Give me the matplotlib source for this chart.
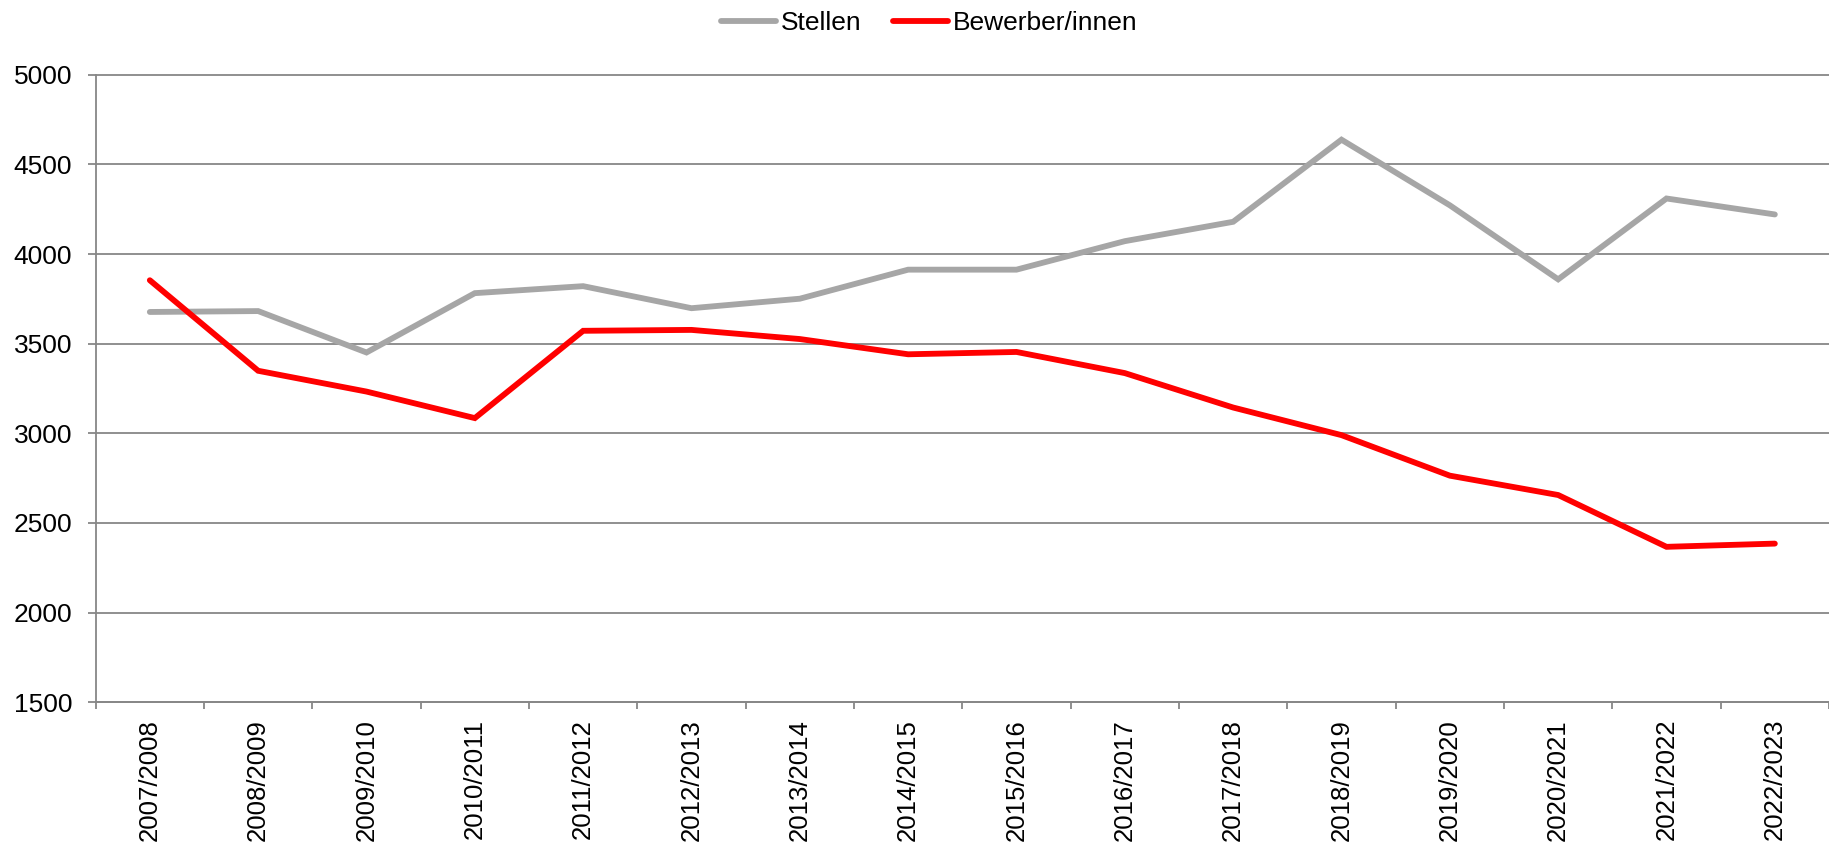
import matplotlib
matplotlib.use("Agg")
import matplotlib.pyplot as plt

plt.rcParams['font.family'] = ['Liberation Sans', 'DejaVu Sans']

# Data
jahre = ["2007/2008", "2008/2009", "2009/2010", "2010/2011", "2011/2012",
         "2012/2013", "2013/2014", "2014/2015", "2015/2016", "2016/2017",
         "2017/2018", "2018/2019", "2019/2020", "2020/2021", "2021/2022",
         "2022/2023"]
stellen = [3677, 3682, 3451, 3782, 3821, 3698, 3751, 3913, 3913, 4072,
           4180, 4638, 4272, 3859, 4310, 4221]
bewerber = [3854, 3349, 3233, 3085, 3572, 3577, 3526, 3441, 3454, 3336,
            3144, 2990, 2764, 2656, 2367, 2385]
y_ticks = [1500, 2000, 2500, 3000, 3500, 4000, 4500, 5000]

grid_col = '#878787'

fig = plt.figure(figsize=(18.29, 8.46), dpi=100)
ax = fig.add_axes([0.0523, 0.1699, 0.9477, 0.7417])

x = list(range(len(jahre)))
l1, = ax.plot(x, stellen, color='#A6A6A6', lw=4.2, solid_capstyle='round',
              solid_joinstyle='miter', label='Stellen', zorder=3)
l2, = ax.plot(x, bewerber, color='#FF0000', lw=4.2, solid_capstyle='round',
              solid_joinstyle='miter', label='Bewerber/innen', zorder=4)

ax.set_xlim(-0.5, len(jahre) - 0.5)
ax.set_ylim(1500, 5000)
ax.set_yticks(y_ticks)
ax.set_yticklabels([str(v) for v in y_ticks])

# category labels in the middle, tick marks on the boundaries
ax.set_xticks(x)
ax.set_xticklabels(jahre, rotation=90)
ax.set_xticks([i - 0.5 for i in range(len(jahre) + 1)], minor=True)
ax.tick_params(axis='x', which='major', length=0, pad=12, labelsize=18.5)
ax.tick_params(axis='x', which='minor', length=5, width=1.3, color=grid_col,
               direction='out')
ax.tick_params(axis='y', length=5.8, width=1.3, color=grid_col, pad=11,
               labelsize=19)

ax.grid(axis='y', color=grid_col, lw=1.3, zorder=1)
ax.set_axisbelow(True)
for gl in ax.get_ygridlines():
    gl.set_clip_on(False)
for s in ['top', 'right']:
    ax.spines[s].set_visible(False)
for s in ['left', 'bottom']:
    ax.spines[s].set_color(grid_col)
    ax.spines[s].set_linewidth(1.3)

fig.legend(handles=[l1, l2], loc='center', bbox_to_anchor=(0.508, 0.973),
           ncol=2, frameon=False, fontsize=19, handlelength=2.1,
           handletextpad=0.16, columnspacing=1.2, borderpad=0)

fig.savefig('out.png', dpi=100)
